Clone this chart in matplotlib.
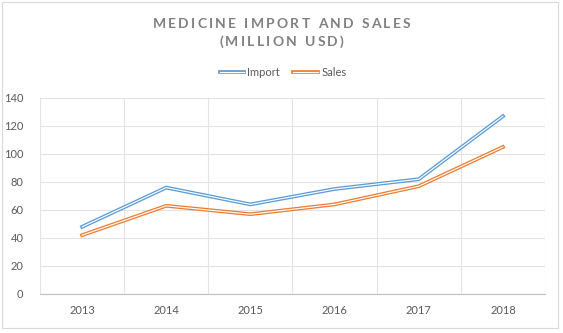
import matplotlib
matplotlib.use("Agg")
import matplotlib.pyplot as plt
import matplotlib.patheffects as pe
from matplotlib.lines import Line2D
from matplotlib.patches import Rectangle

years = ["2013", "2014", "2015", "2016", "2017", "2018"]
import_vals = [48, 76, 64, 75, 82, 127]
sales_vals = [42, 63, 57, 64, 77, 105]
y_ticks = [0, 20, 40, 60, 80, 100, 120, 140]
title_lines = ["MEDICINE IMPORT AND SALES", "(MILLION USD)"]

BLUE = "#5b9bd5"
ORANGE = "#ed7d31"
TEXT = "#595959"
GRID = "#e3e3e3"

plt.rcParams["font.family"] = ["Lato", "DejaVu Sans"]

fig = plt.figure(figsize=(5.63, 3.33), dpi=100)
ax = fig.add_axes([40 / 563, 39 / 333, 505 / 563, 196 / 333])

# double-stroke look: thick coloured line with a thin white core
def double_line(color):
    return [pe.Stroke(linewidth=2.7, foreground=color), pe.Normal()]

x = range(len(years))
ax.plot(x, import_vals, color="white", lw=0.85,
        path_effects=double_line(BLUE), solid_joinstyle="miter", zorder=3)
ax.plot(x, sales_vals, color="white", lw=0.85,
        path_effects=double_line(ORANGE), solid_joinstyle="miter", zorder=3)

ax.set_xlim(-0.5, len(years) - 0.5)
ax.set_ylim(0, 140)
ax.set_yticks(y_ticks)
ax.set_xticks(list(x))
ax.set_xticklabels(years)
ax.set_xticks([i - 0.5 for i in range(len(years) + 1)], minor=True)
ax.grid(True, axis="y", color=GRID, lw=0.8)
ax.grid(True, axis="x", which="minor", color=GRID, lw=0.8)
ax.grid(False, axis="x", which="major")
ax.set_axisbelow(True)
for s in ["left", "right", "top"]:
    ax.spines[s].set_visible(False)
ax.spines["bottom"].set_color("#bfbfbf")
ax.spines["bottom"].set_linewidth(0.8)
ax.tick_params(axis="both", which="both", length=0, colors=TEXT, labelsize=8)
ax.tick_params(axis="y", pad=12)
ax.tick_params(axis="x", pad=8)

# letter-spaced title, placed glyph by glyph on a common baseline
renderer = fig.canvas.get_renderer()
def spaced_text(s, baseline, size, spacing):
    parts = []
    total = 0
    for ch in s:
        if ch == " ":
            parts.append((None, size * 0.33))
            total += size * 0.33 + spacing
            continue
        t = fig.text(0, 0, ch, fontsize=size, fontweight="bold",
                     color="#808080", va="baseline", ha="left")
        w = t.get_window_extent(renderer).width
        parts.append((t, w))
        total += w + spacing
    total -= spacing
    xp = (563 - total) / 2
    for t, w in parts:
        if t is not None:
            t.set_position((xp / 563, (333 - baseline) / 333))
        xp += w + spacing
spaced_text(title_lines[0], 28.5, 10, 2.3)
spaced_text(title_lines[1], 45.5, 10, 2.3)

# legend with double-stroke handles
h_imp = Line2D([], [], color="white", lw=0.85, path_effects=double_line(BLUE))
h_sal = Line2D([], [], color="white", lw=0.85, path_effects=double_line(ORANGE))
fig.legend([h_imp, h_sal], ["Import", "Sales"], loc="center",
           bbox_to_anchor=(283 / 563, 1 - 72.5 / 333), ncol=2, frameon=False,
           fontsize=8, labelcolor=TEXT, handlelength=2.2, handletextpad=0.3,
           columnspacing=1.2)

# chart border
fig.add_artist(Rectangle((2 / 563, 5 / 333), 556 / 563, 326 / 333,
                         transform=fig.transFigure, fill=False,
                         edgecolor="#d9d9d9", lw=0.8))

fig.savefig("out.png", dpi=100)
